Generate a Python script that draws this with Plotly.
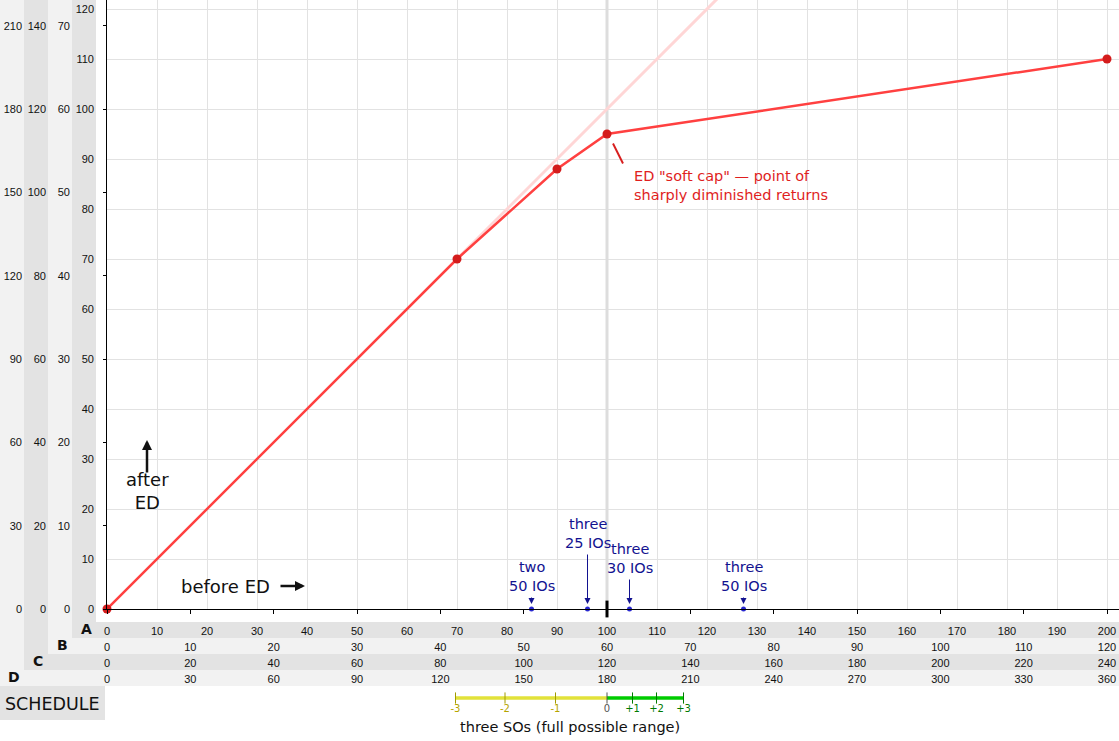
import plotly.graph_objects as go

W, H = 1119, 741

# ---------------- data ----------------
# enhancement value before ED (x, schedule A) vs after ED (y, schedule A)
before_ed = [0, 70, 90, 100, 200]
after_ed = [0, 70, 88, 95, 110]
# undiminished reference line (y = x) beyond the first threshold
no_ed_x = [70, 130]
no_ed_y = [70, 130]
soft_cap = 100

# slotting examples (schedule A value before ED)
io_names = ["two<br>50 IOs", "three<br>25 IOs", "three<br>30 IOs", "three<br>50 IOs"]
io_values = [84.9, 96.1, 104.5, 127.3]

# schedules: value on schedule per unit of schedule A, and tick labels
sched_names = ["A", "B", "C", "D"]
sched_factor = [1.0, 0.6, 1.2, 1.8]
sched_x_ticks = [list(range(0, 201, 10)), list(range(0, 121, 10)),
                 list(range(0, 241, 20)), list(range(0, 361, 30))]
sched_y_ticks = [list(range(0, 121, 10)), list(range(0, 71, 10)),
                 list(range(0, 141, 20)), list(range(0, 211, 30))]

# SO full possible range bar
so_labels = ["-3", "-2", "-1", "0", "+1", "+2", "+3"]
so_values = [69.7, 79.6, 89.7, 100.0, 105.1, 109.9, 115.3]
so_title = "three SOs (full possible range)"

# ---------------- layout geometry (pixels) ----------------
X0_PX = 107          # x = 0
AXIS_PX = 609        # y = 0
PPU = 5              # pixels per unit
X_MAX = (W - X0_PX) / PPU
Y_MAX = AXIS_PX / PPU


def px(xp):
    return xp / W


def py(yp):
    return 1 - yp / H


XDOM = [px(X0_PX), 1]
YDOM = [py(AXIS_PX), 1]

LIGHT = "#f2f2f2"
DARK = "#e3e3e3"
TICKFONT = dict(family="Liberation Sans", size=11, color="#111")
TXT = "DejaVu Sans"

fig = go.Figure()

# soft cap vertical guide
fig.add_trace(go.Scatter(x=[soft_cap, soft_cap], y=[0, Y_MAX], mode="lines",
                         line=dict(color="#dddddd", width=3), hoverinfo="skip", showlegend=False))
# undiminished line
fig.add_trace(go.Scatter(x=no_ed_x, y=no_ed_y, mode="lines",
                         line=dict(color="#ffd6d6", width=3), hoverinfo="skip", showlegend=False))
# ED curve
fig.add_trace(go.Scatter(x=before_ed, y=after_ed, mode="lines+markers",
                         line=dict(color="#ff4040", width=2.5),
                         marker=dict(size=9, color="#d41c1c"), cliponaxis=False, showlegend=False))
# slotting example points
fig.add_trace(go.Scatter(x=io_values, y=[0] * len(io_values), mode="markers",
                         marker=dict(size=5, color="#2828d0"), cliponaxis=False, showlegend=False))
# soft cap mark on axis
fig.add_trace(go.Scatter(x=[soft_cap], y=[0], mode="markers",
                         marker=dict(symbol="line-ns", size=12, line=dict(width=3, color="black")),
                         cliponaxis=False, showlegend=False))

# dummy traces to register label axes
for i in range(2, 7):
    fig.add_trace(go.Scatter(x=[None], y=[None], xaxis=f"x{i}", yaxis="y", showlegend=False, hoverinfo="skip"))
    fig.add_trace(go.Scatter(x=[None], y=[None], xaxis="x", yaxis=f"y{i}", showlegend=False, hoverinfo="skip"))

# SO range bar on its own strip subplot
fig.add_trace(go.Scatter(x=so_values[:4], y=[0] * 4, mode="lines", xaxis="x7", yaxis="y7",
                         line=dict(color="#e2e23a", width=3.5), hoverinfo="skip", showlegend=False))
fig.add_trace(go.Scatter(x=so_values[3:], y=[0] * 4, mode="lines", xaxis="x7", yaxis="y7",
                         line=dict(color="#00cc00", width=3.5), hoverinfo="skip", showlegend=False))
so_tick_colors = ["#a09a00"] * 3 + ["#555555"] + ["#007a00"] * 3
so_text_colors = ["#b4a400"] * 3 + ["#555555"] + ["#007a00"] * 3
fig.add_trace(go.Scatter(x=so_values, y=[0] * len(so_values), mode="markers+text", xaxis="x7", yaxis="y7",
                         text=so_labels, textposition="bottom center",
                         textfont=dict(family="DejaVu Sans", size=10, color=so_text_colors),
                         marker=dict(symbol="line-ns", size=8, line=dict(width=1, color=so_tick_colors)),
                         cliponaxis=False, hoverinfo="skip", showlegend=False))

shapes = []
# schedule columns (left) and rows (bottom)
col_spec = {"D": (0, 24, 686, LIGHT), "C": (24, 48, 670, DARK), "B": (48, 72, 654, LIGHT), "A": (72, 96, 638, DARK)}
row_spec = {"A": (72, 622, 638, DARK), "B": (48, 638, 654, LIGHT), "C": (24, 654, 670, DARK), "D": (0, 670, 686, LIGHT)}
for k, (x0, x1, yb, c) in col_spec.items():
    shapes.append(dict(type="rect", xref="paper", yref="paper", x0=px(x0), x1=px(x1), y0=py(yb), y1=1,
                       fillcolor=c, line=dict(width=0), layer="below"))
for k, (x0, y0, y1, c) in row_spec.items():
    shapes.append(dict(type="rect", xref="paper", yref="paper", x0=px(x0), x1=1, y0=py(y1), y1=py(y0),
                       fillcolor=c, line=dict(width=0), layer="below"))
# SCHEDULE box
shapes.append(dict(type="rect", xref="paper", yref="paper", x0=0, x1=px(105), y0=py(720), y1=py(686),
                   fillcolor=DARK, line=dict(width=0), layer="below"))
# pointer for soft cap annotation
shapes.append(dict(type="line", xref="paper", yref="paper", x0=px(613), y0=py(143.5), x1=px(623), y1=py(163.5),
                   line=dict(color="#d82020", width=2)))

annotations = []
letter_pos = {"A": (86, 628.5), "B": (62, 645), "C": (38, 661), "D": (14, 677)}
for k, (xx, yy) in letter_pos.items():
    annotations.append(dict(xref="paper", yref="paper", x=px(xx), y=py(yy), text="<b>" + k + "</b>", showarrow=False,
                            font=dict(family="DejaVu Sans", size=14, color="#111"), xanchor="center", yanchor="middle"))
annotations.append(dict(xref="paper", yref="paper", x=px(52), y=py(704), text="SCHEDULE", showarrow=False,
                        font=dict(family=TXT, size=17.5, color="#111"), xanchor="center", yanchor="middle"))
annotations.append(dict(xref="x7", yref="paper", x=(so_values[0] + so_values[-1]) / 2, y=py(727),
                        text=so_title, showarrow=False, font=dict(family=TXT, size=14.5, color="#111"),
                        xanchor="center", yanchor="middle"))
# soft cap annotation
annotations.append(dict(xref="paper", yref="paper", x=px(632), y=py(185), xanchor="left", yanchor="middle",
                        align="left", showarrow=False,
                        text="ED \"soft cap\" \u2014 point of<br>sharply diminished returns",
                        font=dict(family=TXT, size=14.5, color="#e01e1e")))
# after ED / before ED
annotations.append(dict(xref="paper", yref="paper", x=px(147), y=py(491), text="after<br>ED", showarrow=False,
                        font=dict(family=TXT, size=18, color="#111"), xanchor="center", yanchor="middle"))
annotations.append(dict(xref="paper", yref="paper", x=px(147), y=py(440), ax=0, ay=34, axref="pixel", ayref="pixel",
                        text="", showarrow=True, arrowhead=2, arrowsize=0.8, arrowwidth=2.5, arrowcolor="#111"))
annotations.append(dict(xref="paper", yref="paper", x=px(225), y=py(586), text="before ED", showarrow=False,
                        font=dict(family=TXT, size=18, color="#111"), xanchor="center", yanchor="middle"))
annotations.append(dict(xref="paper", yref="paper", x=px(305), y=py(586), ax=-26, ay=0,
                        text="", showarrow=True, arrowhead=2, arrowsize=0.8, arrowwidth=2.5, arrowcolor="#111"))
# slotting example labels and arrows
label_lift = [13, 56, 31, 13]
for name, v, lift in zip(io_names, io_values, label_lift):
    annotations.append(dict(xref="x", yref="y", x=v, y=0, yshift=lift, text=name, showarrow=False,
                            xanchor="center", yanchor="bottom",
                            font=dict(family=TXT, size=14.5, color="#121290")))
    annotations.append(dict(xref="x", yref="y", x=v, y=0, ax=0, ay=-lift, text="", showarrow=True,
                            arrowhead=2, arrowsize=1.2, arrowwidth=1, arrowcolor="#121290", standoff=5))

layout = dict(
    width=W, height=H, autosize=False,
    margin=dict(l=0, r=0, t=0, b=0, pad=0, autoexpand=False),
    paper_bgcolor="white", plot_bgcolor="white",
    showlegend=False,
    shapes=shapes, annotations=annotations,
    xaxis=dict(domain=XDOM, range=[0, X_MAX], anchor="y", showgrid=True, gridcolor="#e2e2e2", gridwidth=1,
               tickvals=list(range(0, 201, 10)), showticklabels=False, ticks="", zeroline=False,
               showline=True, linecolor="black", linewidth=1, automargin=False),
    yaxis=dict(domain=YDOM, range=[0, Y_MAX], anchor="x", showgrid=True, gridcolor="#e2e2e2", gridwidth=1,
               tickvals=list(range(0, 121, 10)), showticklabels=False, ticks="", zeroline=False,
               showline=True, linecolor="black", linewidth=1, automargin=False),
    xaxis7=dict(domain=XDOM, range=[0, X_MAX], anchor="y7", visible=False, automargin=False),
    yaxis7=dict(domain=[0.028, 0.088], range=[-1, 1], anchor="x7", visible=False, automargin=False),
)

# schedule tick label axes
x_label_center = [630, 645.7, 661.7, 677.7]
y_label_right = [92, 68, 44, 20]
for i, (f, xt, yt, xc, yr) in enumerate(zip(sched_factor, sched_x_ticks, sched_y_ticks, x_label_center, y_label_right)):
    n = i + 2
    layout[f"xaxis{n}"] = dict(domain=XDOM, range=[0, X_MAX * f], overlaying="x", anchor="free",
                               position=py(xc - 7), side="bottom", tickvals=xt, ticktext=[str(t) for t in xt],
                               ticks="", showgrid=False, zeroline=False, showline=False, tickfont=TICKFONT,
                               automargin=False)
    layout[f"yaxis{n}"] = dict(domain=YDOM, range=[0, Y_MAX * f], overlaying="y", anchor="free",
                               position=px(yr + 2), side="left", tickvals=yt, ticktext=[str(t) for t in yt],
                               ticks="", showgrid=False, zeroline=False, showline=False, tickfont=TICKFONT,
                               automargin=False)
# schedule B ticks on the main axes
layout["xaxis6"] = dict(domain=XDOM, range=[0, X_MAX * sched_factor[1]], overlaying="x", anchor="y",
                        side="bottom", tickvals=sched_x_ticks[1], showticklabels=False, ticks="outside",
                        ticklen=4, tickcolor="black", tickwidth=1, showgrid=False, zeroline=False, showline=False,
                        automargin=False)
layout["yaxis6"] = dict(domain=YDOM, range=[0, Y_MAX * sched_factor[1]], overlaying="y", anchor="x",
                        side="left", tickvals=sched_y_ticks[1], showticklabels=False, ticks="outside",
                        ticklen=3, tickcolor="black", tickwidth=1, showgrid=False, zeroline=False, showline=False,
                        automargin=False)

fig.update_layout(**layout)
fig.write_html("out.html", config={"displayModeBar": False},
               post_script="document.body.style.margin='0';document.body.style.overflow='hidden';")
